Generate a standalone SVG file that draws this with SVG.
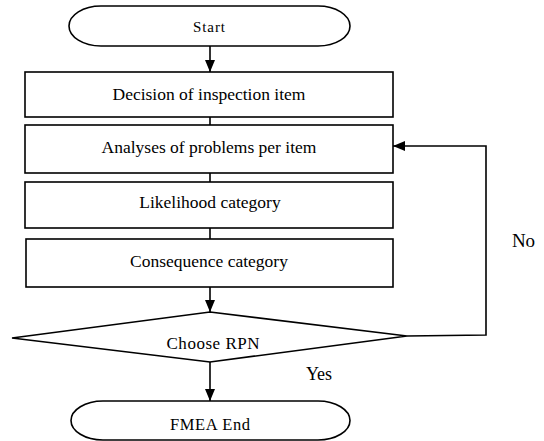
<svg xmlns="http://www.w3.org/2000/svg" width="544" height="441" viewBox="0 0 544 441">
<style>
.s{fill:#fff;stroke:#000;stroke-width:1.6}
.t{font-family:'Liberation Serif','Times New Roman','DejaVu Serif',serif;fill:#000;text-anchor:middle}
.b{font-size:17.5px}
.c{fill:none;stroke:#000;stroke-width:1.6}
</style>
<defs>
<marker id="a" viewBox="0 0 12 10" refX="12" refY="5" markerWidth="12" markerHeight="10" markerUnits="userSpaceOnUse" orient="auto">
<path d="M0,0 L12,5 L0,10 Z" fill="#000"/>
</marker>
</defs>
<g id="connectors">
<line class="c" x1="210" y1="46" x2="210" y2="72" marker-end="url(#a)"/>
<line class="c" x1="210" y1="117" x2="210" y2="125"/>
<line class="c" x1="210" y1="173" x2="210" y2="182"/>
<line class="c" x1="210" y1="228" x2="210" y2="239"/>
<line class="c" x1="210" y1="287" x2="210" y2="312" marker-end="url(#a)"/>
<line class="c" x1="210" y1="362" x2="210" y2="401" marker-end="url(#a)"/>
<polyline class="c" points="407,336 486,335 486,146 393,146" marker-end="url(#a)"/>
<text class="t" x="319" y="380" font-size="18">Yes</text>
<text class="t" x="523.5" y="247" font-size="19">No</text>
</g>
<g id="start">
<rect class="s" x="69" y="6" width="281" height="40" rx="32" ry="20"/>
<text class="t" x="209" y="32" font-size="15" textLength="32" lengthAdjust="spacing">Start</text>
</g>
<g id="decision">
<rect class="s" x="25" y="72" width="368" height="45"/>
<text class="t b" x="209" y="100">Decision of inspection item</text>
</g>
<g id="analyses">
<rect class="s" x="25" y="125" width="368" height="48"/>
<text class="t b" x="209" y="153">Analyses of problems per item</text>
</g>
<g id="likelihood">
<rect class="s" x="25" y="182" width="368" height="46"/>
<text class="t b" x="210" y="208">Likelihood category</text>
</g>
<g id="consequence">
<rect class="s" x="26" y="239" width="367" height="48"/>
<text class="t b" x="209" y="267">Consequence category</text>
</g>
<g id="choose">
<polygon class="s" points="210,312 407,336 210,362 12,338"/>
<text class="t" x="213" y="349" font-size="17" textLength="93" lengthAdjust="spacing">Choose RPN</text>
</g>
<g id="end">
<rect class="s" x="71" y="401" width="279" height="39" rx="32" ry="19.5"/>
<text class="t" x="210" y="430" font-size="16.5" textLength="80" lengthAdjust="spacing">FMEA End</text>
</g>
</svg>
